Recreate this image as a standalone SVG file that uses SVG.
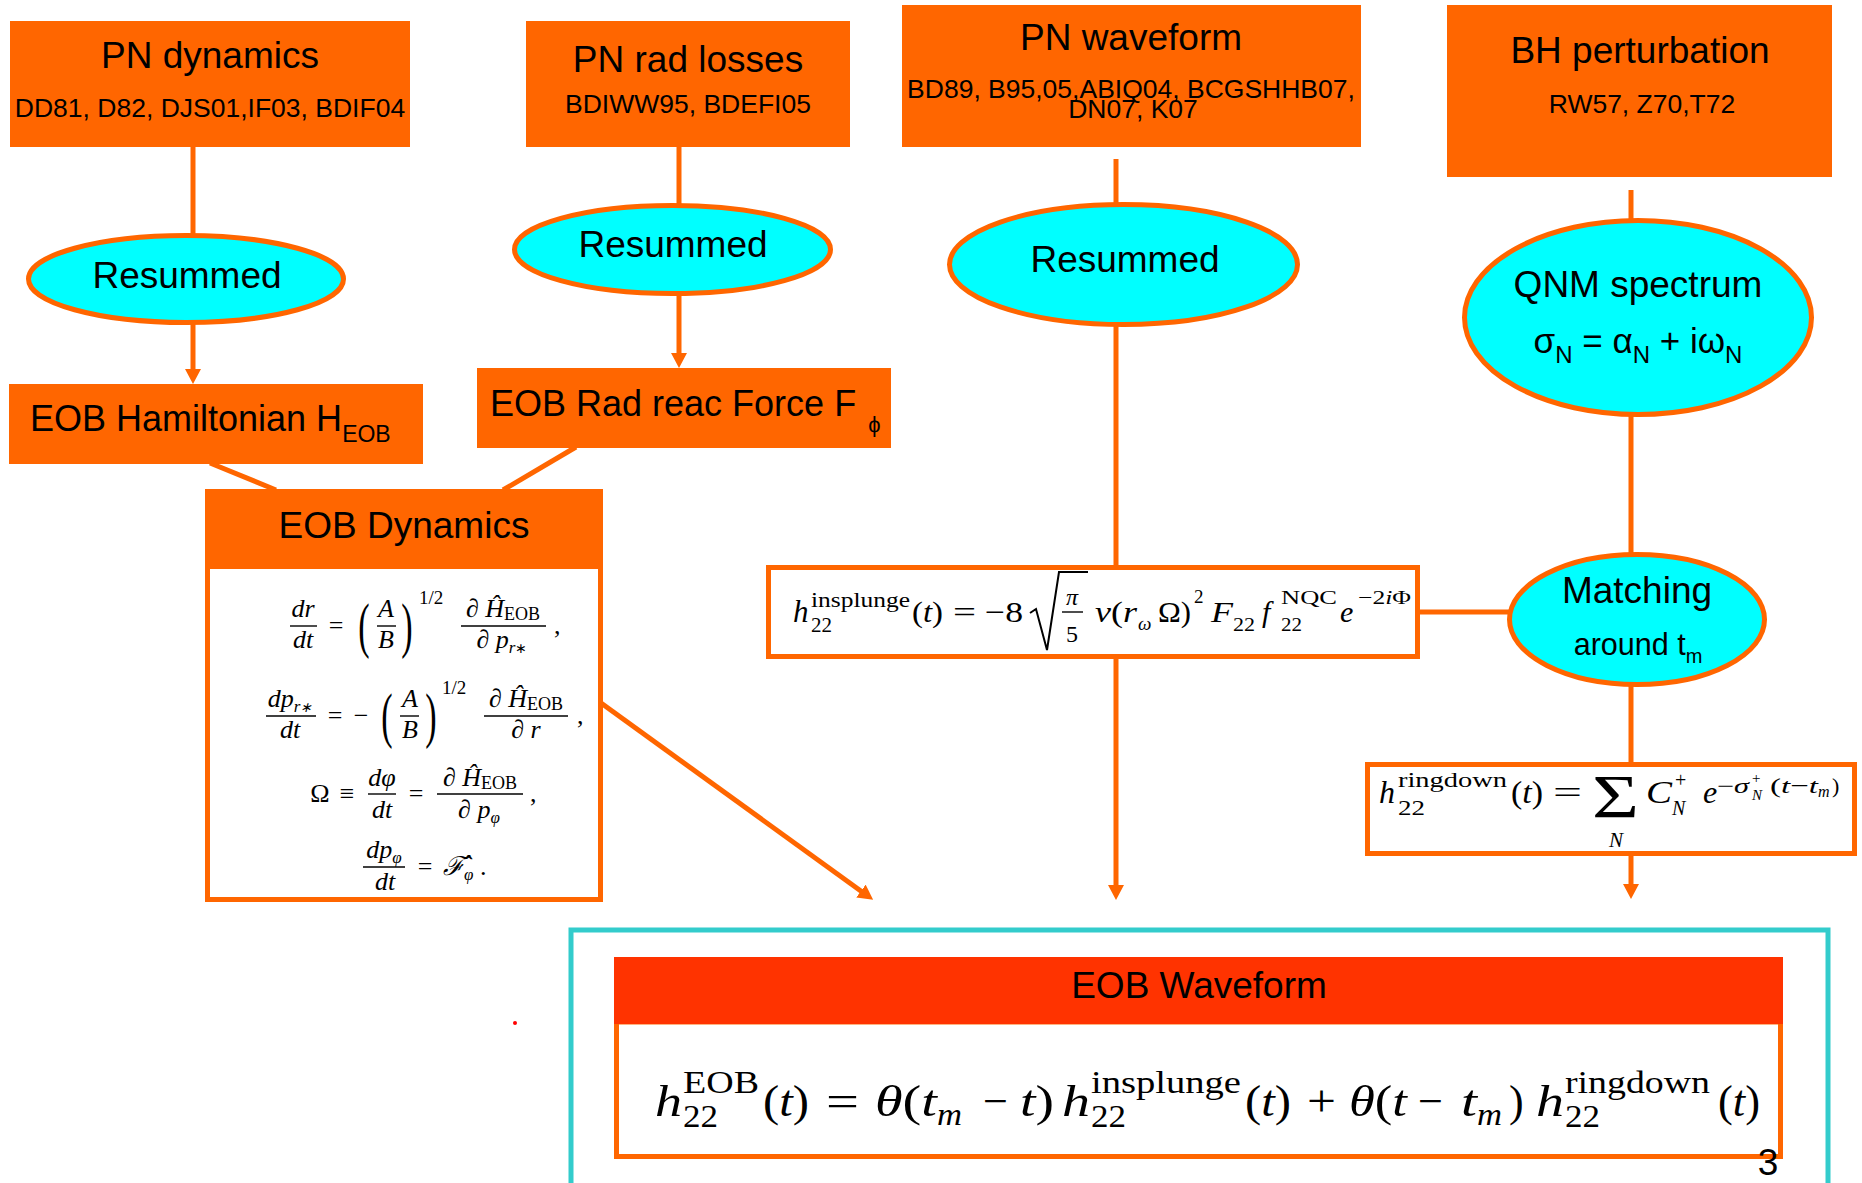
<svg xmlns="http://www.w3.org/2000/svg" width="1862" height="1183" viewBox="0 0 1862 1183">
<style>
.box{fill:#FF6600}
.ell{fill:#00FFFF;stroke:#FF6600;stroke-width:5}
.frm{fill:#FFFFFF;stroke:#FF6600;stroke-width:5}
.t{font-family:"Liberation Sans",Arial,sans-serif;fill:#000}
.title{font-size:37px;text-anchor:middle}
.sub{font-size:26.5px;text-anchor:middle}
.mf{font-family:"Liberation Serif","Times New Roman",serif;fill:#000}
.i{font-style:italic}
.mid{text-anchor:middle}
.conn{stroke:#FF6600;stroke-width:5;fill:none}
.bar{stroke:#000;stroke-width:1.4}
</style>
<defs>
<marker id="ah" viewBox="0 0 15 16" markerWidth="15" markerHeight="16" refX="5" refY="8" orient="auto" markerUnits="userSpaceOnUse">
<path d="M0,0 L15,8 L0,16 z" fill="#FF6600"/>
</marker>
</defs>
<rect width="1862" height="1183" fill="#FFFFFF"/>

<g id="connectors">
<line class="conn" x1="193" y1="147" x2="193" y2="235"/>
<line class="conn" x1="193" y1="324" x2="193" y2="374" marker-end="url(#ah)"/>
<line class="conn" x1="679" y1="147" x2="679" y2="205"/>
<line class="conn" x1="679" y1="295" x2="679" y2="358" marker-end="url(#ah)"/>
<line class="conn" x1="1116" y1="159" x2="1116" y2="204"/>
<line class="conn" x1="1116" y1="326" x2="1116" y2="566"/>
<line class="conn" x1="1116" y1="658" x2="1116" y2="890" marker-end="url(#ah)"/>
<line class="conn" x1="1631" y1="190" x2="1631" y2="220"/>
<line class="conn" x1="1631" y1="415" x2="1631" y2="554"/>
<line class="conn" x1="1419" y1="612" x2="1509" y2="612"/>
<line class="conn" x1="1631" y1="685" x2="1631" y2="764"/>
<line class="conn" x1="1631" y1="855" x2="1631" y2="889" marker-end="url(#ah)"/>
<line class="conn" x1="210" y1="463" x2="276" y2="490"/>
<line class="conn" x1="576" y1="447" x2="503" y2="490"/>
<line class="conn" x1="601" y1="703" x2="865" y2="894" marker-end="url(#ah)"/>
</g>

<g id="pn-dynamics">
<rect class="box" x="10" y="21" width="400" height="126"/>
<text class="t title" x="210" y="68">PN dynamics</text>
<text class="t sub" x="210" y="117">DD81, D82, DJS01,IF03, BDIF04</text>
</g>

<g id="pn-rad-losses">
<rect class="box" x="526" y="21" width="324" height="126"/>
<text class="t title" x="688" y="72">PN rad losses</text>
<text class="t sub" x="688" y="113">BDIWW95, BDEFI05</text>
</g>

<g id="pn-waveform">
<rect class="box" x="902" y="5" width="459" height="142"/>
<text class="t title" x="1131" y="50">PN waveform</text>
<text class="t sub" x="1131" y="98">BD89, B95,05,ABIQ04, BCGSHHB07,</text>
<text class="t sub" x="1133" y="118">DN07, K07</text>
</g>

<g id="bh-perturbation">
<rect class="box" x="1447" y="5" width="385" height="172"/>
<text class="t title" x="1640" y="63">BH perturbation</text>
<text class="t sub" x="1642" y="113">RW57, Z70,T72</text>
</g>

<g id="resummed-1">
<ellipse class="ell" cx="186" cy="279" rx="157.5" ry="43.5"/>
<text class="t title" x="187" y="288">Resummed</text>
</g>

<g id="resummed-2">
<ellipse class="ell" cx="672.5" cy="249.5" rx="158" ry="44"/>
<text class="t title" x="673" y="257">Resummed</text>
</g>

<g id="resummed-3">
<ellipse class="ell" cx="1123.5" cy="264.5" rx="174" ry="60"/>
<text class="t title" x="1125" y="272">Resummed</text>
</g>

<g id="qnm-spectrum">
<ellipse class="ell" cx="1638" cy="317.5" rx="173.5" ry="97"/>
<text class="t title" x="1638" y="297">QNM spectrum</text>
<text class="t mid" x="1638" y="353" font-size="35">σ<tspan font-size="24" dy="10">N</tspan><tspan dy="-10"> = α</tspan><tspan font-size="24" dy="10">N</tspan><tspan dy="-10"> + iω</tspan><tspan font-size="24" dy="10">N</tspan></text>
</g>

<g id="matching">
<ellipse class="ell" cx="1637" cy="619.5" rx="127.5" ry="65"/>
<text class="t title" x="1637" y="603">Matching</text>
<text class="t mid" x="1638" y="655" font-size="30.5">around t<tspan font-size="20" dy="8">m</tspan></text>
</g>

<g id="eob-hamiltonian">
<rect class="box" x="9" y="384" width="414" height="80"/>
<text class="t" x="30" y="431" font-size="36">EOB Hamiltonian H<tspan font-size="23" dy="11">EOB</tspan></text>
</g>

<g id="eob-rad-reac">
<rect class="box" x="477" y="368" width="414" height="80"/>
<text class="t" x="490" y="416" font-size="36">EOB Rad reac Force F<tspan font-size="22" dx="12" dy="16">ϕ</tspan></text>
</g>

<g id="eob-dynamics">
<rect class="frm" x="207.5" y="491.5" width="393" height="408"/>
<rect class="box" x="205" y="489" width="398" height="80"/>
<text class="t title" x="404" y="538">EOB Dynamics</text>
<!-- eq 1 -->
<text class="mf i mid" x="303" y="617" font-size="26">dr</text>
<line class="bar" x1="290" y1="626" x2="317" y2="626"/>
<text class="mf i mid" x="303" y="648" font-size="26">dt</text>
<text class="mf mid" x="336" y="634" font-size="26">=</text>
<text class="mf mid" font-size="62" transform="translate(364,646) scale(0.55,1)">(</text>
<text class="mf i mid" x="386" y="617" font-size="26">A</text>
<line class="bar" x1="377" y1="626" x2="396" y2="626"/>
<text class="mf i mid" x="386" y="648" font-size="26">B</text>
<text class="mf mid" font-size="62" transform="translate(407,646) scale(0.55,1)">)</text>
<text class="mf" x="419" y="604" font-size="19">1/2</text>
<text class="mf mid" x="503" y="617" font-size="26">∂ <tspan class="i">Ĥ</tspan><tspan font-size="18" dy="3">EOB</tspan></text>
<line class="bar" x1="461" y1="626" x2="546" y2="626"/>
<text class="mf mid" x="502" y="648" font-size="26">∂ <tspan class="i">p</tspan><tspan class="i" font-size="17" dy="5">r</tspan><tspan font-size="14">∗</tspan></text>
<text class="mf" x="554" y="634" font-size="26">,</text>
<!-- eq 2 -->
<text class="mf i mid" x="290" y="707" font-size="26">dp<tspan font-size="17" dy="5">r</tspan><tspan font-size="14">∗</tspan></text>
<line class="bar" x1="266" y1="716" x2="316" y2="716"/>
<text class="mf i mid" x="290" y="738" font-size="26">dt</text>
<text class="mf mid" x="335" y="724" font-size="26">=</text>
<text class="mf mid" x="361" y="724" font-size="26">−</text>
<text class="mf mid" font-size="62" transform="translate(387,736) scale(0.55,1)">(</text>
<text class="mf i mid" x="410" y="707" font-size="26">A</text>
<line class="bar" x1="400" y1="716" x2="419" y2="716"/>
<text class="mf i mid" x="410" y="738" font-size="26">B</text>
<text class="mf mid" font-size="62" transform="translate(431,736) scale(0.55,1)">)</text>
<text class="mf" x="442" y="694" font-size="19">1/2</text>
<text class="mf mid" x="526" y="707" font-size="26">∂ <tspan class="i">Ĥ</tspan><tspan font-size="18" dy="3">EOB</tspan></text>
<line class="bar" x1="484" y1="716" x2="568" y2="716"/>
<text class="mf mid" x="526" y="738" font-size="26">∂ <tspan class="i">r</tspan></text>
<text class="mf" x="577" y="724" font-size="26">,</text>
<!-- eq 3 -->
<text class="mf mid" x="320" y="802" font-size="26">Ω</text>
<text class="mf mid" x="347" y="802" font-size="26">≡</text>
<text class="mf i mid" x="382" y="786" font-size="26">dφ</text>
<line class="bar" x1="368" y1="794" x2="396" y2="794"/>
<text class="mf i mid" x="382" y="818" font-size="26">dt</text>
<text class="mf mid" x="416" y="802" font-size="26">=</text>
<text class="mf mid" x="480" y="786" font-size="26">∂ <tspan class="i">Ĥ</tspan><tspan font-size="18" dy="3">EOB</tspan></text>
<line class="bar" x1="437" y1="794" x2="523" y2="794"/>
<text class="mf mid" x="479" y="818" font-size="26">∂ <tspan class="i">p</tspan><tspan class="i" font-size="17" dy="5">φ</tspan></text>
<text class="mf" x="530" y="802" font-size="26">,</text>
<!-- eq 4 -->
<text class="mf i mid" x="384" y="858" font-size="26">dp<tspan font-size="17" dy="5">φ</tspan></text>
<line class="bar" x1="363" y1="867" x2="405" y2="867"/>
<text class="mf i mid" x="385" y="890" font-size="26">dt</text>
<text class="mf mid" x="425" y="875" font-size="26">=</text>
<text class="mf i" x="443" y="875" font-size="26">ℱ̂<tspan font-size="17" dy="5">φ</tspan></text>
<text class="mf" x="480" y="875" font-size="26">.</text>
</g>

<g id="insplunge">
<rect class="frm" x="768.5" y="567.5" width="649" height="89"/>
<text class="mf i" x="793" y="622" font-size="31">h</text>
<text class="mf" x="811" y="607" font-size="21" textLength="99" lengthAdjust="spacingAndGlyphs">insplunge</text>
<text class="mf" x="811" y="632" font-size="21" textLength="21" lengthAdjust="spacingAndGlyphs">22</text>
<text class="mf" x="912" y="622" font-size="30" textLength="31" lengthAdjust="spacingAndGlyphs">(<tspan class="i">t</tspan>)</text>
<text class="mf" x="953" y="622" font-size="30" textLength="23" lengthAdjust="spacingAndGlyphs">=</text>
<text class="mf" x="985" y="622" font-size="30" textLength="38" lengthAdjust="spacingAndGlyphs">−8</text>
<polyline points="1030,613 1036,609 1047,650 1059,572 1088,572" fill="none" stroke="#000" stroke-width="2"/>
<text class="mf i mid" x="1072" y="605" font-size="24">π</text>
<line class="bar" x1="1062" y1="612" x2="1083" y2="612"/>
<text class="mf mid" x="1072" y="642" font-size="24">5</text>
<text class="mf" x="1095" y="622" font-size="30" textLength="42" lengthAdjust="spacingAndGlyphs"><tspan class="i">ν</tspan>(<tspan class="i">r</tspan></text>
<text class="mf i" x="1138" y="630" font-size="19">ω</text>
<text class="mf" x="1158" y="622" font-size="30" textLength="33" lengthAdjust="spacingAndGlyphs">Ω)</text>
<text class="mf" x="1194" y="603" font-size="19">2</text>
<text class="mf i" x="1211" y="622" font-size="30" textLength="22" lengthAdjust="spacingAndGlyphs">F</text>
<text class="mf" x="1233" y="631" font-size="19" textLength="22" lengthAdjust="spacingAndGlyphs">22</text>
<text class="mf i" x="1262" y="622" font-size="30">f</text>
<text class="mf" x="1281" y="604" font-size="19" textLength="56" lengthAdjust="spacingAndGlyphs">NQC</text>
<text class="mf" x="1281" y="631" font-size="19" textLength="21" lengthAdjust="spacingAndGlyphs">22</text>
<text class="mf i" x="1340" y="622" font-size="30">e</text>
<text class="mf" x="1358" y="604" font-size="19" textLength="53" lengthAdjust="spacingAndGlyphs">−2<tspan class="i">i</tspan>Φ</text>
</g>

<g id="ringdown">
<rect class="frm" x="1367.5" y="764.5" width="487" height="89"/>
<text class="mf i" x="1379" y="803" font-size="32">h</text>
<text class="mf" x="1398" y="787" font-size="22" textLength="109" lengthAdjust="spacingAndGlyphs">ringdown</text>
<text class="mf" x="1398" y="815" font-size="22" textLength="27" lengthAdjust="spacingAndGlyphs">22</text>
<text class="mf" x="1511" y="803" font-size="32" textLength="32" lengthAdjust="spacingAndGlyphs">(<tspan class="i">t</tspan>)</text>
<text class="mf" x="1553" y="803" font-size="32" textLength="29" lengthAdjust="spacingAndGlyphs">=</text>
<text class="mf" x="1592" y="817" font-size="62" textLength="47" lengthAdjust="spacingAndGlyphs">Σ</text>
<text class="mf i mid" x="1616" y="847" font-size="21">N</text>
<text class="mf i" x="1646" y="803" font-size="32" textLength="26" lengthAdjust="spacingAndGlyphs">C</text>
<text class="mf" x="1675" y="787" font-size="20">+</text>
<text class="mf i" x="1672" y="815" font-size="20">N</text>
<text class="mf i" x="1703" y="803" font-size="32">e</text>
<text class="mf" x="1717" y="793" font-size="21" textLength="32" lengthAdjust="spacingAndGlyphs">−<tspan class="i">σ</tspan></text>
<text class="mf" x="1752" y="783" font-size="15">+</text>
<text class="mf i" x="1752" y="800" font-size="15">N</text>
<text class="mf" x="1770" y="793" font-size="22" textLength="48" lengthAdjust="spacingAndGlyphs">(<tspan class="i">t</tspan>−<tspan class="i">t</tspan></text>
<text class="mf i" x="1818" y="797" font-size="16">m</text>
<text class="mf" x="1832" y="793" font-size="22">)</text>
</g>

<g id="eob-waveform">
<rect x="571" y="930" width="1257" height="300" fill="#FFFFFF" stroke="#33CCCC" stroke-width="5"/>
<rect class="frm" x="616.5" y="1022" width="1164" height="134.5"/>
<rect x="614" y="957" width="1169" height="67" fill="#FF3300"/>
<text class="t title" x="1199" y="998">EOB Waveform</text>
<text class="mf i" x="655" y="1116" font-size="44" textLength="27" lengthAdjust="spacingAndGlyphs">h</text>
<text class="mf" x="683" y="1093" font-size="31" textLength="76" lengthAdjust="spacingAndGlyphs">EOB</text>
<text class="mf" x="683" y="1127" font-size="31" textLength="35" lengthAdjust="spacingAndGlyphs">22</text>
<text class="mf" x="763" y="1116" font-size="44" textLength="46" lengthAdjust="spacingAndGlyphs">(<tspan class="i">t</tspan>)</text>
<text class="mf" x="826" y="1116" font-size="44" textLength="33" lengthAdjust="spacingAndGlyphs">=</text>
<text class="mf" x="875" y="1116" font-size="44" textLength="62" lengthAdjust="spacingAndGlyphs"><tspan class="i">θ</tspan>(<tspan class="i">t</tspan></text>
<text class="mf i" x="937" y="1125" font-size="31" textLength="25" lengthAdjust="spacingAndGlyphs">m</text>
<text class="mf" x="983" y="1116" font-size="44" textLength="25" lengthAdjust="spacingAndGlyphs">−</text>
<text class="mf" x="1020" y="1116" font-size="44" textLength="34" lengthAdjust="spacingAndGlyphs"><tspan class="i">t</tspan>)</text>
<text class="mf i" x="1062" y="1116" font-size="44" textLength="28" lengthAdjust="spacingAndGlyphs">h</text>
<text class="mf" x="1091" y="1093" font-size="31" textLength="150" lengthAdjust="spacingAndGlyphs">insplunge</text>
<text class="mf" x="1091" y="1127" font-size="31" textLength="35" lengthAdjust="spacingAndGlyphs">22</text>
<text class="mf" x="1245" y="1116" font-size="44" textLength="46" lengthAdjust="spacingAndGlyphs">(<tspan class="i">t</tspan>)</text>
<text class="mf" x="1307" y="1116" font-size="44" textLength="29" lengthAdjust="spacingAndGlyphs">+</text>
<text class="mf" x="1349" y="1116" font-size="44" textLength="58" lengthAdjust="spacingAndGlyphs"><tspan class="i">θ</tspan>(<tspan class="i">t</tspan></text>
<text class="mf" x="1418" y="1116" font-size="44" textLength="25" lengthAdjust="spacingAndGlyphs">−</text>
<text class="mf i" x="1461" y="1116" font-size="44" textLength="16" lengthAdjust="spacingAndGlyphs">t</text>
<text class="mf i" x="1477" y="1125" font-size="31" textLength="25" lengthAdjust="spacingAndGlyphs">m</text>
<text class="mf" x="1509" y="1116" font-size="44">)</text>
<text class="mf i" x="1536" y="1116" font-size="44" textLength="28" lengthAdjust="spacingAndGlyphs">h</text>
<text class="mf" x="1565" y="1093" font-size="31" textLength="145" lengthAdjust="spacingAndGlyphs">ringdown</text>
<text class="mf" x="1565" y="1127" font-size="31" textLength="35" lengthAdjust="spacingAndGlyphs">22</text>
<text class="mf" x="1718" y="1116" font-size="44" textLength="42" lengthAdjust="spacingAndGlyphs">(<tspan class="i">t</tspan>)</text>
</g>

<circle cx="515" cy="1023" r="2" fill="#FF0000"/>
<text class="t mid" x="1768" y="1175" font-size="37">3</text>
</svg>
